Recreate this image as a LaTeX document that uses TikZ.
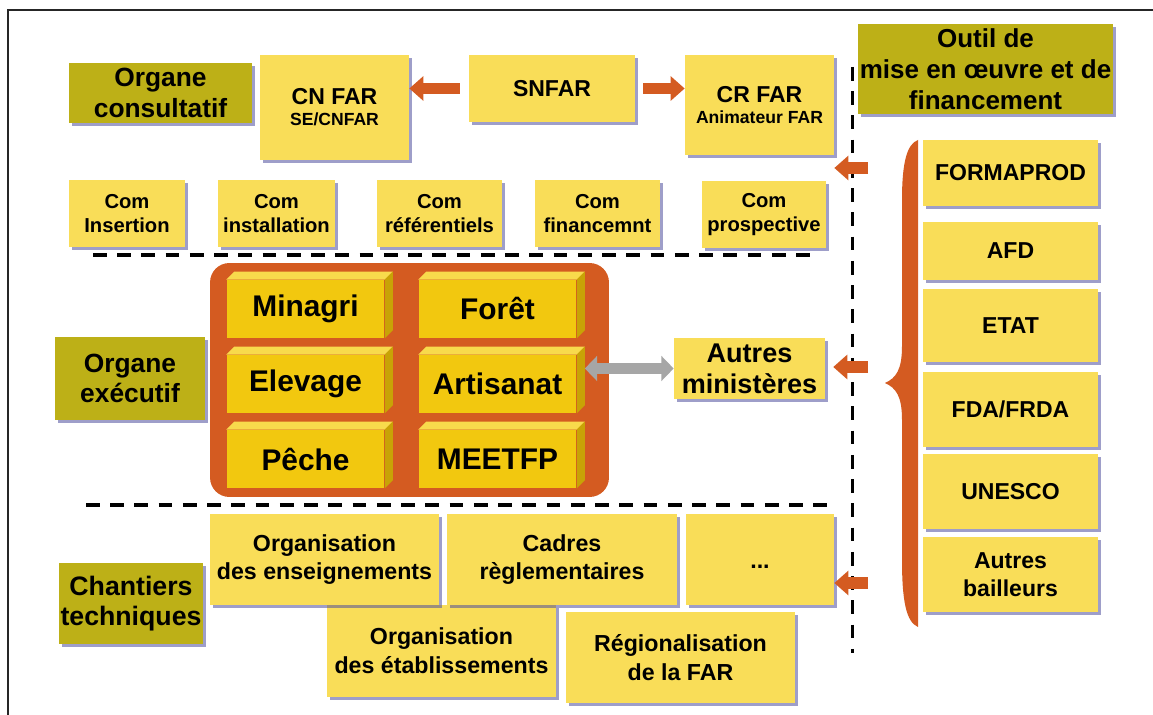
\documentclass[tikz,border=0pt]{standalone}
\usepackage{fontspec}
\setmainfont{Liberation Sans}
\usetikzlibrary{arrows.meta,shadows}
\definecolor{boxyellow}{HTML}{F9DD58}
\definecolor{boxolive}{HTML}{BDB017}
\definecolor{farorange}{HTML}{D45B21}
\definecolor{cubefront}{HTML}{F2C80F}
\definecolor{cubetopc}{HTML}{F8DA4C}
\definecolor{cubesidec}{HTML}{C8A306}
\definecolor{arrowgray}{HTML}{A6A6A6}
\definecolor{shadowblue}{HTML}{4E4E9C}
\newcommand{\fsHead}{\fontsize{15}{17.5}\selectfont}
\newcommand{\fsOutil}{\fontsize{14.8}{17.8}\selectfont}
\newcommand{\fsCom}{\fontsize{11.5}{14}\selectfont}
\newcommand{\fsMain}{\fontsize{13.1}{15}\selectfont}
\newcommand{\fsSub}{\fontsize{10}{12}\selectfont}
\newcommand{\fsFin}{\fontsize{13.1}{16}\selectfont}
\newcommand{\fsCube}{\fontsize{17}{19}\selectfont}
\newcommand{\fsMin}{\fontsize{15.4}{17.5}\selectfont}
\newcommand{\fsTech}{\fontsize{15.2}{17.2}\selectfont}
\newcommand{\fsChant}{\fontsize{13.2}{16.4}\selectfont}
\tikzset{
  base/.style={draw=none, align=center, inner sep=1pt},
  ybox/.style={base, fill=boxyellow,
    drop shadow={shadow xshift=1.8pt, shadow yshift=-1.8pt, fill=shadowblue, opacity=.55}},
  obox/.style={ybox, fill=boxolive},
  cube/.style={base, fill=cubefront, minimum width=3.16cm, minimum height=1.16cm,
    font=\fsCube\bfseries},
  cubetop/.style={fill=cubetopc},
  cubeside/.style={fill=cubesidec},
  oarrow/.style={draw=farorange, line width=6.8pt,
    -{Triangle[length=8pt,width=13.6pt]}},
  garrow/.style={draw=arrowgray, line width=6.8pt,
    {Triangle[length=7pt,width=14pt]}-{Triangle[length=7pt,width=14pt]}},
  sep/.style={line width=2pt, dash pattern=on 7.8pt off 6pt},
}
\begin{document}
\begin{tikzpicture}[x=0.02cm,y=-0.02cm]
\useasboundingbox (0,0) rectangle (1153,715);
\draw[line width=0.9pt, draw=black!85] (8,715) -- (8,10) -- (1153,10);

% organe consultatif
\node[obox, minimum width=3.66cm, minimum height=1.2cm, font=\fsHead\bfseries] (consult) at (160.5,93) {Organe\\consultatif};
\node[ybox, minimum width=2.98cm, minimum height=2.1cm] (cnfar) at (334.5,107.5) {{\fsMain\bfseries CN FAR}\\{\fsSub\bfseries SE/CNFAR}};
\node[ybox, minimum width=3.32cm, minimum height=1.34cm, font=\fsMain\bfseries] (snfar) at (552,88.5) {SNFAR};
\node[ybox, minimum width=2.98cm, minimum height=2.0cm] (crfar) at (759.5,105) {{\fsMain\bfseries CR FAR}\\{\fsSub\bfseries Animateur FAR}};
\draw[oarrow, shorten <=5pt] (snfar.west) -- (snfar.west -| cnfar.east);
\draw[oarrow, shorten <=4.5pt] (snfar.east) -- (snfar.east -| crfar.west);

\node[ybox, minimum width=2.32cm, minimum height=1.34cm, font=\fsCom\bfseries] (cominsert) at (127,213.5) {Com\\Insertion};
\node[ybox, minimum width=2.34cm, minimum height=1.34cm, font=\fsCom\bfseries] (cominstal) at (276.5,213.5) {Com\\installation};
\node[ybox, minimum width=2.5cm, minimum height=1.34cm, font=\fsCom\bfseries] (comref) at (439.5,213.5) {Com\\référentiels};
\node[ybox, minimum width=2.5cm, minimum height=1.34cm, font=\fsCom\bfseries] (comfin) at (597.5,213.5) {Com\\financemnt};
\node[ybox, minimum width=2.48cm, minimum height=1.34cm, font=\fsCom\bfseries] (comprosp) at (764,214.5) {Com\\prospective};

\draw[sep] (93,255) -- (820,255);

% organe executif
\node[obox, minimum width=3.0cm, minimum height=1.66cm, font=\fsHead\bfseries] (executif) at (130,378.5) {Organe\\exécutif};
\node[base, fill=farorange, rounded corners=11pt, minimum width=7.98cm, minimum height=4.68cm] (grpbox) at (409.5,380) {};
\foreach \nm/\cx/\cy/\txt in {minagri/305.5/309/Minagri, foret/497.5/309/Forêt,
    elevage/305.5/384/Elevage, artisanat/497.5/384/Artisanat,
    peche/305.5/459/Pêche, meetfp/497.5/459/MEETFP} {
  \node[cube] (\nm) at (\cx,\cy) {\txt};
  \fill[cubetop] (\nm.north west) -- ++(8,-8) -- ([shift={(8,-8)}]\nm.north east) -- (\nm.north east) -- cycle;
  \fill[cubeside] (\nm.north east) -- ++(8,-8) -- ([shift={(8,-8)}]\nm.south east) -- (\nm.south east) -- cycle;
}
\node[ybox, minimum width=3.02cm, minimum height=1.22cm, font=\fsMin\bfseries] (autresmin) at (749.5,368.5) {Autres\\ministères};
\path (artisanat.east |- autresmin.west) ++(8,0) coordinate (grayend);
\draw[garrow] (grayend) -- (autresmin.west);

\draw[sep] (86,505) -- (827,505);

% chantiers techniques
\node[obox, minimum width=2.84cm, minimum height=1.62cm, font=\fsTech\bfseries] (chantiers) at (131,603.5) {Chantiers\\techniques};
\node[ybox, minimum width=4.58cm, minimum height=1.84cm, font=\fsChant\bfseries] (orgetab) at (441.5,651) {Organisation\\des établissements};
\node[ybox, minimum width=4.58cm, minimum height=1.82cm, font=\fsChant\bfseries] (regio) at (680.5,657.5) {Régionalisation\\de la FAR};
\node[ybox, minimum width=4.58cm, minimum height=1.82cm, font=\fsChant\bfseries] (orgens) at (324.5,559.5) {Organisation\\des enseignements};
\node[ybox, minimum width=4.6cm, minimum height=1.82cm, font=\fsChant\bfseries] (cadres) at (562,559.5) {Cadres\\règlementaires};
\node[ybox, minimum width=2.96cm, minimum height=1.82cm, font=\fsChant\bfseries] (dots) at (760,559.5) {\raisebox{-10pt}{...}};

% outils de financement
\draw[sep, line width=1.7pt] (852,67) -- (852,653);
\node[obox, minimum width=5.1cm, minimum height=1.8cm, font=\fsOutil\bfseries] (outil) at (985.5,69) {Outil de\\mise en œuvre et de\\financement};
\node[ybox, minimum width=3.5cm, minimum height=1.32cm, font=\fsFin\bfseries] (formaprod) at (1010.5,173) {FORMAPROD};
\node[ybox, minimum width=3.5cm, minimum height=1.16cm, font=\fsFin\bfseries] (afd) at (1010.5,251) {AFD};
\node[ybox, minimum width=3.5cm, minimum height=1.46cm, font=\fsFin\bfseries] (etat) at (1010.5,325.5) {ETAT};
\node[ybox, minimum width=3.5cm, minimum height=1.5cm, font=\fsFin\bfseries] (fda) at (1010.5,409.5) {FDA/FRDA};
\node[ybox, minimum width=3.5cm, minimum height=1.5cm, font=\fsFin\bfseries] (unesco) at (1010.5,491.5) {UNESCO};
\node[ybox, minimum width=3.5cm, minimum height=1.5cm, font=\fsFin\bfseries] (bailleurs) at (1010.5,574.5) {Autres\\bailleurs};
\fill[farorange] (918,140) -- (918,627) .. controls (906,622) and (902,600) .. (902,560)
  -- (902,420) .. controls (902,396) and (896,388) .. (885,383)
  .. controls (896,378) and (902,370) .. (902,346) -- (902,200)
  .. controls (902,162) and (907,144) .. (918,140) -- cycle;
\coordinate (fin1) at (868,168);
\coordinate (fin2) at (868,367);
\coordinate (fin3) at (868,583);
\draw[oarrow] (fin1) -- (fin1 -| crfar.east);
\draw[oarrow, shorten >=4.5pt] (fin2) -- (fin2 -| autresmin.east);
\draw[oarrow] (fin3) -- (fin3 -| dots.east);
\end{tikzpicture}
\end{document}
